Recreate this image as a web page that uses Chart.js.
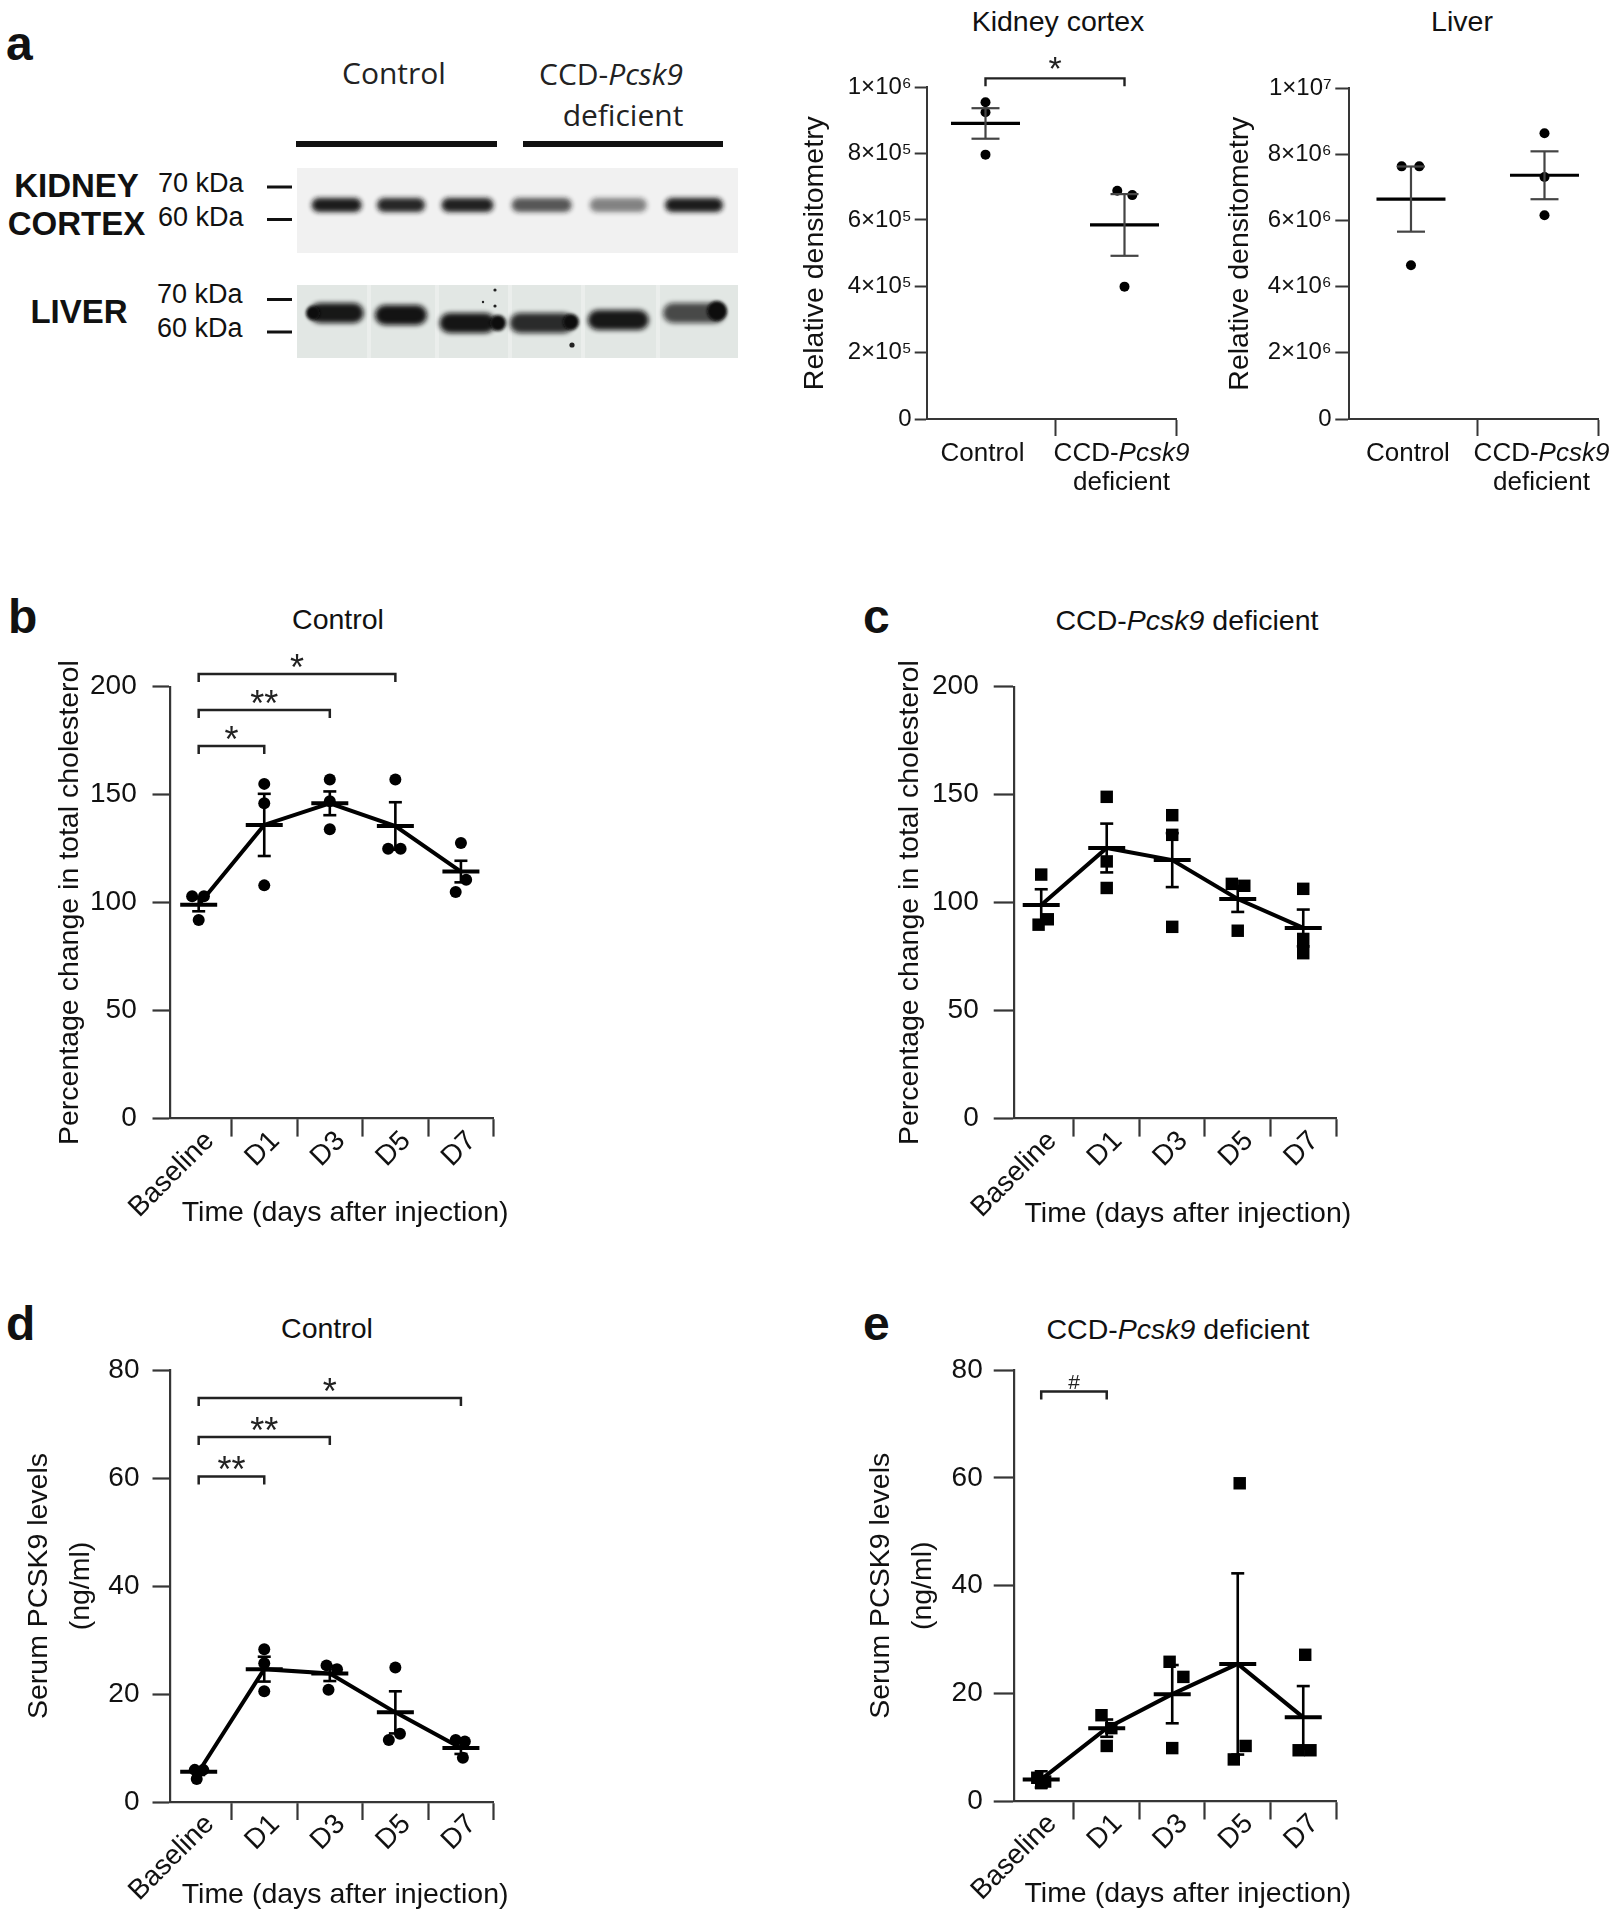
<!DOCTYPE html>
<html>
<head>
<meta charset="utf-8">
<script src="https://cdn.jsdelivr.net/npm/chart.js@4"></script>
<style>
html,body{margin:0;padding:0;background:#fff;}
#page{position:relative;width:1616px;height:1920px;overflow:hidden;background:#fff;}
#page canvas{position:absolute;}
#overlay{position:absolute;left:0;top:0;}
</style>
</head>
<body>
<div id="page">
<svg id="overlay" width="1616" height="1920" xmlns="http://www.w3.org/2000/svg" font-family="'Liberation Sans', Arial, sans-serif">
  <defs>
    <filter id="bandBlur" x="-30%" y="-80%" width="160%" height="260%"><feGaussianBlur stdDeviation="2.6"/></filter>
    <filter id="softBlur" x="-40%" y="-40%" width="180%" height="180%"><feGaussianBlur stdDeviation="1.6"/></filter>
  </defs>
  <g font-weight="bold" font-size="48" fill="#111">
    <text x="6" y="60">a</text>
    <text x="8" y="633">b</text>
    <text x="863" y="633">c</text>
    <text x="6" y="1340">d</text>
    <text x="863" y="1340">e</text>
  </g>
  <g font-family="'Open Sans', sans-serif" font-size="30" fill="#222" text-anchor="middle">
    <text x="394" y="84">Control</text>
    <text x="611" y="85">CCD-<tspan font-style="italic">Pcsk9</tspan></text>
    <text x="623" y="126">deficient</text>
  </g>
  <rect x="296" y="141" width="201" height="6" fill="#111"/>
  <rect x="523" y="141" width="200" height="6" fill="#111"/>
  <g font-weight="bold" font-size="33" fill="#111" text-anchor="middle">
    <text x="76.5" y="197">KIDNEY</text>
    <text x="76.5" y="235">CORTEX</text>
    <text x="79" y="323">LIVER</text>
  </g>
  <g font-size="27" fill="#111">
    <text x="158" y="192">70 kDa</text>
    <text x="158" y="226">60 kDa</text>
    <text x="157" y="303">70 kDa</text>
    <text x="157" y="337">60 kDa</text>
  </g>
  <g stroke="#111" stroke-width="3">
    <line x1="267" y1="187" x2="292" y2="187"/>
    <line x1="267" y1="219.5" x2="292" y2="219.5"/>
    <line x1="267" y1="299.5" x2="292" y2="299.5"/>
    <line x1="267" y1="332" x2="292" y2="332"/>
  </g>
  <g id="blots"></g>
  <g font-size="28.5" fill="#111" text-anchor="middle">
    <text x="1058" y="30.5">Kidney cortex</text>
    <text x="1462" y="30.5">Liver</text>
    <text x="338" y="629">Control</text>
    <text x="1187" y="629.5">CCD-<tspan font-style="italic">Pcsk9</tspan> deficient</text>
    <text x="327" y="1338">Control</text>
    <text x="1178" y="1339">CCD-<tspan font-style="italic">Pcsk9</tspan> deficient</text>
  </g>
</svg>
<canvas id="cKidney"></canvas>
<canvas id="cLiver"></canvas>
<canvas id="cB"></canvas>
<canvas id="cC"></canvas>
<canvas id="cD"></canvas>
<canvas id="cE"></canvas>
</div>
<script>
// ---------------- DATA ----------------
const groupLabels = ['Control', 'CCD-Pcsk9 deficient'];
const timeLabels = ['Baseline', 'D1', 'D3', 'D5', 'D7'];
const timeAxisTitle = 'Time (days after injection)';
const kidneyTickLabels = ['0', '2×10⁵', '4×10⁵', '6×10⁵', '8×10⁵', '1×10⁶'];
const liverTickLabels = ['0', '2×10⁶', '4×10⁶', '6×10⁶', '8×10⁶', '1×10⁷'];

// panel a – relative densitometry (individual values per group)
const kidneyPoints = [[955000, 925000, 797000], [688000, 675000, 399000]];
const kidneyJitter = [[0, 0, 0], [-0.052, 0.056, 0]];
const kidneyMean = [891000, 585000];
const kidneySem = [46000, 93000];
const liverPoints = [[7640000, 7640000, 4650000], [8640000, 7320000, 6160000]];
const liverJitter = [[-0.07, 0.062, 0], [0, 0, 0]];
const liverMean = [6650000, 7370000];
const liverSem = [985000, 724000];

// panel b – % change in total cholesterol, control
const cholCtrlPoints = [[103, 103, 92], [155, 146, 108], [157, 147, 134], [157, 125, 125], [127.6, 110.6, 104.9]];
const cholCtrlJitter = [[-0.1, 0.08, 0], [0, 0, 0], [0, 0, 0], [0, -0.11, 0.08], [0, 0.08, -0.08]];
const cholCtrlMean = [99, 136, 146, 135.5, 114.4];
const cholCtrlSem = [3, 14.4, 5.5, 11, 5];

// panel c – % change in total cholesterol, CCD-Pcsk9 deficient
const cholKoPoints = [[113, 89.8, 92.3], [149, 119.1, 106.8], [140.5, 131.4, 88.8], [108.7, 107.8, 87], [106.4, 83.2, 76.6]];
const cholKoJitter = [[0, -0.04, 0.1], [0, 0, 0], [0, 0, 0], [-0.09, 0.1, 0], [0, 0, 0]];
const cholKoMean = [98.9, 125.3, 119.7, 101.7, 88.3];
const cholKoSem = [7.3, 11.3, 12.5, 6, 8.5];

// panel d – serum PCSK9, control
const pcskCtrlPoints = [[5.95, 5.95, 4.24], [28.3, 25.7, 20.5], [25.3, 24.6, 20.8], [24.9, 12.65, 11.5], [11.5, 11.2, 8.2]];
const pcskCtrlJitter = [[-0.06, 0.07, -0.03], [0, 0, 0], [-0.05, 0.11, -0.02], [0, 0.07, -0.1], [-0.08, 0.06, 0.03]];
const pcskCtrlMean = [5.6, 24.6, 23.8, 16.6, 10.0];
const pcskCtrlSem = [0.6, 2.3, 1.4, 3.9, 1.1];

// panel e – serum PCSK9, CCD-Pcsk9 deficient
const pcskKoPoints = [[4.4, 3.7, 3.4], [16.0, 13.6, 10.3], [25.9, 23.1, 9.9], [59.0, 7.8, 10.3], [27.2, 9.5, 9.5]];
const pcskKoJitter = [[-0.06, 0.06, 0], [-0.08, 0.07, 0], [-0.04, 0.17, 0], [0.03, -0.06, 0.12], [0.03, -0.07, 0.11]];
const pcskKoMean = [4.1, 13.6, 19.9, 25.5, 15.6];
const pcskKoSem = [1.5, 1.6, 5.4, 16.8, 5.8];

// significance brackets: [from group, to group, level, label]
const kidneyBrackets = [[1, 2, 1027000, '*']];
const cholCtrlBrackets = [[1, 2, 172.5, '*'], [1, 3, 189.2, '**'], [1, 4, 205.9, '*']];
const pcskCtrlBrackets = [[1, 2, 60.3, '**'], [1, 3, 67.6, '**'], [1, 5, 74.8, '*']];
const pcskKoBrackets = [[1, 2, 76.0, '#']];

// western blot band densities (relative darkness per lane)
const kidneyBandDensity = [0.97, 0.92, 0.95, 0.7, 0.5, 0.97];
const liverBandDensity = [0.95, 0.97, 0.96, 0.86, 0.95, 0.72];

// ---------------- WESTERN BLOT (decorative image) ----------------
(function drawBlots() {
  const NS = 'http://www.w3.org/2000/svg';
  const g = document.getElementById('blots');
  function el(tag, attrs) { const e = document.createElementNS(NS, tag); for (const k in attrs) e.setAttribute(k, attrs[k]); g.appendChild(e); return e; }
  el('rect', {x: 297, y: 168, width: 441, height: 85, fill: '#f1f1f1'});
  el('rect', {x: 297, y: 285, width: 441, height: 73, fill: '#e2e7e4'});
  [369, 437, 510, 583, 658].forEach(x => el('rect', {x: x - 2, y: 285, width: 4, height: 73, fill: '#edf0ee', opacity: 0.8}));
  const laneX = [336.7, 401, 467.5, 541.7, 618.3, 694];
  const laneW = [50, 48, 52, 60, 57, 58];
  const liverY = [313, 315, 323, 323, 320, 313];
  kidneyBandDensity.forEach((d, i) => {
    el('rect', {x: laneX[i] - laneW[i] / 2, y: 198, width: laneW[i], height: 14, rx: 7, fill: '#141414', opacity: d, filter: 'url(#bandBlur)'});
  });
  liverBandDensity.forEach((d, i) => {
    const w = laneW[i] + 4;
    el('rect', {x: laneX[i] - w / 2, y: liverY[i] - 10, width: w, height: 20, rx: 10, fill: '#0d0d0d', opacity: d, filter: 'url(#bandBlur)'});
  });
  [[498, 323, 8], [571, 322, 8], [717, 311, 10], [313, 313, 7]].forEach(c => el('circle', {cx: c[0], cy: c[1], r: c[2], fill: '#0a0a0a', filter: 'url(#softBlur)'}));
  [[495, 290, 1.6], [495, 306, 1.6], [483, 302, 1.2], [572, 345, 2.6]].forEach(c => el('circle', {cx: c[0], cy: c[1], r: c[2], fill: '#222'}));
})();

// ---------------- CHARTS ----------------
const FONT = "'Liberation Sans', Arial, 'DejaVu Sans', sans-serif";
Chart.defaults.font.family = FONT;
Chart.defaults.color = '#111';
const AX = '#363636';

const bracketPlugin = {
  id: 'brackets',
  afterDraw(chart, args, opts) {
    const items = opts.items || [];
    const {ctx} = chart; const xs = chart.scales.x, ys = chart.scales.y;
    ctx.save();
    items.forEach(b => {
      const x1 = xs.getPixelForValue(b[0]), x2 = xs.getPixelForValue(b[1]), y = ys.getPixelForValue(b[2]);
      ctx.strokeStyle = '#222'; ctx.lineWidth = opts.lineWidth;
      ctx.beginPath(); ctx.moveTo(x1, y + opts.drop); ctx.lineTo(x1, y); ctx.lineTo(x2, y); ctx.lineTo(x2, y + opts.drop); ctx.stroke();
      ctx.fillStyle = '#222'; ctx.textAlign = 'center'; ctx.textBaseline = 'alphabetic';
      const isHash = b[3] === '#';
      ctx.font = (isHash ? opts.hashSize : opts.size) + 'px ' + FONT;
      ctx.fillText(b[3], (x1 + x2) / 2, y + (isHash ? opts.hashShift : opts.starShift));
    });
    ctx.restore();
  }
};

const groupLabelPlugin = {
  id: 'groupLabels',
  afterDraw(chart, args, opts) {
    const {ctx} = chart; const xs = chart.scales.x; const bottom = chart.chartArea.bottom;
    ctx.save(); ctx.fillStyle = '#111'; ctx.textBaseline = 'alphabetic'; ctx.textAlign = 'left';
    const normal = opts.size + 'px ' + FONT, italic = 'italic ' + opts.size + 'px ' + FONT;
    groupLabels.forEach((lab, i) => {
      const cx = xs.getPixelForValue(i + 1) + opts.dx;
      const lines = lab.indexOf(' deficient') > 0 ? [lab.replace(' deficient', ''), 'deficient'] : [lab];
      lines.forEach((line, li) => {
        const k = line.indexOf('Pcsk9');
        const parts = k >= 0 ? [[line.slice(0, k), normal], ['Pcsk9', italic], [line.slice(k + 5), normal]] : [[line, normal]];
        let total = 0; parts.forEach(p => { ctx.font = p[1]; total += ctx.measureText(p[0]).width; });
        let x = cx - total / 2; const y = bottom + opts.base + li * opts.lineGap;
        parts.forEach(p => { ctx.font = p[1]; ctx.fillText(p[0], x, y); x += ctx.measureText(p[0]).width; });
      });
    });
    ctx.restore();
  }
};

// x-axis title drawn under the axis (centre slightly right of the plot centre, as in the figure)
const xTitlePlugin = {
  id: 'xTitle',
  afterDraw(chart, args, opts) {
    if (!opts.text) return;
    const {ctx, chartArea} = chart;
    ctx.save(); ctx.fillStyle = '#111'; ctx.textAlign = 'center'; ctx.textBaseline = 'middle';
    ctx.font = opts.size + 'px ' + FONT;
    ctx.fillText(opts.text, (chartArea.left + chartArea.right) / 2 + opts.dx, chartArea.bottom + opts.dy);
    ctx.restore();
  }
};

function buildDatasets(points, jitter, means, sems, st) {
  const pts = [];
  points.forEach((arr, i) => arr.forEach((v, j) => pts.push({x: i + 1 + jitter[i][j], y: v})));
  const errs = [], caps = [];
  means.forEach((m, i) => {
    errs.push({x: i + 1, y: m - sems[i]}, {x: i + 1, y: m + sems[i]}, {x: i + 1, y: null});
    caps.push({x: i + 1, y: m - sems[i]}, {x: i + 1, y: m + sems[i]});
  });
  return [
    {label: 'SEM', data: errs, borderColor: st.errColor, borderWidth: st.errWidth, pointRadius: 0, spanGaps: false, clip: false},
    {label: 'SEM caps', data: caps, showLine: false, pointStyle: 'line', pointRadius: st.capR, pointBorderWidth: st.errWidth, pointBorderColor: st.errColor, clip: false},
    {label: 'Mean', data: means.map((m, i) => ({x: i + 1, y: m})), showLine: st.connect, borderColor: '#000', borderWidth: st.meanWidth, pointStyle: 'line', pointRadius: st.meanR, pointBorderWidth: st.meanWidth, pointBorderColor: '#000', clip: false},
    {label: 'Individual values', data: pts, showLine: false, pointStyle: st.shape, pointRadius: st.r, pointBackgroundColor: '#000', pointBorderColor: '#000', pointBorderWidth: 0, clip: false}
  ];
}

function placeCanvas(id, left, top, w, h) {
  const cv = document.getElementById(id);
  cv.width = w; cv.height = h; cv.style.left = left + 'px'; cv.style.top = top + 'px';
  cv.style.width = w + 'px'; cv.style.height = h + 'px';
  return cv;
}

// nudge paddings so that the plot area lands exactly where the figure has it
function fitChartArea(chart, P) {
  const T = P.area;
  for (let k = 0; k < 4; k++) {
    const ca = chart.chartArea;
    const dl = T.left - ca.left, dt = T.top - ca.top, dr = ca.right - T.right, db = ca.bottom - T.bottom;
    if (Math.abs(dl) + Math.abs(dt) + Math.abs(dr) + Math.abs(db) < 0.2) break;
    P.yw += dl; P.padTop += dt; P.padRight += dr; P.padBottom += db;
    chart.config.options.layout.padding = {left: 0, top: P.padTop, right: P.padRight, bottom: P.padBottom};
    chart.update();
  }
}

function makeGroupChart(P) {
  const cv = placeCanvas(P.id, P.left, P.top, P.w, P.h);
  const chart = new Chart(cv, {
    type: 'line',
    data: {datasets: buildDatasets(P.points, P.jitter, P.means, P.sems,
      {errColor: '#444', errWidth: 2.2, capR: 14, connect: false, meanWidth: 3.2, meanR: 34.5, shape: 'circle', r: 5})},
    options: {
      responsive: false, animation: false, events: [], devicePixelRatio: 1,
      layout: {autoPadding: false, padding: {left: 0, top: P.padTop, right: P.padRight, bottom: P.padBottom}},
      plugins: {legend: {display: false}, tooltip: {enabled: false},
        brackets: {items: P.brackets, drop: 8, lineWidth: 2.4, size: 34, starShift: 2, hashSize: 21, hashShift: -3},
        groupLabels: {dx: -3, size: 26, base: 42, lineGap: 29}},
      scales: {
        x: {type: 'linear', min: P.xmin, max: P.xmax,
          afterBuildTicks: s => { s.ticks = [{value: 1}, {value: 1.5}, {value: 2}, {value: P.xmax}]; },
          afterFit: s => { s.height = P.xh; },
          ticks: {autoSkip: false, maxRotation: 0, padding: 0, callback: () => ''},
          grid: {drawOnChartArea: false, drawTicks: true, tickLength: 17, tickWidth: 2,
            tickColor: c => (c.tick && !Number.isInteger(c.tick.value)) ? AX : 'rgba(0,0,0,0)'},
          border: {display: true, color: AX, width: 2}},
        y: {type: 'linear', min: 0, max: P.ymax,
          afterFit: s => { s.width = P.yw; },
          ticks: {stepSize: P.ymax / 5, padding: P.ytp, color: '#111', font: {size: 24},
            callback: v => P.tickLabels[Math.round(v / (P.ymax / 5))]},
          grid: {drawOnChartArea: false, tickLength: P.ytl, tickWidth: 2, tickColor: AX},
          border: {display: true, color: AX, width: 2},
          title: {display: true, text: 'Relative densitometry', color: '#111', font: {size: 28.5}, padding: {top: P.ytitlePad, bottom: 0}}}
      }
    },
    plugins: [bracketPlugin, groupLabelPlugin]
  });
  fitChartArea(chart, P);
  return chart;
}

function makeTimeChart(P) {
  const cv = placeCanvas(P.id, P.left, P.top, P.w, P.h);
  const chart = new Chart(cv, {
    type: 'line',
    data: {datasets: buildDatasets(P.points, P.jitter, P.means, P.sems,
      {errColor: '#000', errWidth: 2.6, capR: 6.5, connect: true, meanWidth: 4, meanR: 18.5, shape: P.shape, r: P.r})},
    options: {
      responsive: false, animation: false, events: [], devicePixelRatio: 1,
      layout: {autoPadding: false, padding: {left: 0, top: P.padTop, right: P.padRight, bottom: P.padBottom}},
      plugins: {legend: {display: false}, tooltip: {enabled: false},
        brackets: {items: P.brackets || [], drop: 8, lineWidth: 2.5, size: 36, starShift: 6, hashSize: 21, hashShift: -3},
        xTitle: {text: timeAxisTitle, size: 28.5, dx: 13, dy: P.xTitleDy}},
      scales: {
        x: {type: 'linear', min: P.xmin, max: 5.5,
          afterBuildTicks: s => { const t = []; for (let i = 1; i <= 5; i++) { t.push({value: i}); t.push({value: i + 0.5}); } s.ticks = t; },
          afterFit: s => { s.height = P.xh; },
          ticks: {autoSkip: false, minRotation: 45, maxRotation: 45, padding: -12, labelOffset: 11, color: '#111', font: {size: 28},
            callback: v => Number.isInteger(v) ? timeLabels[v - 1] : ''},
          grid: {drawOnChartArea: false, drawTicks: true, tickLength: 18, tickWidth: 2.2,
            tickColor: c => (c.tick && !Number.isInteger(c.tick.value)) ? AX : 'rgba(0,0,0,0)'},
          border: {display: true, color: AX, width: 2.2}},
        y: {type: 'linear', min: 0, max: P.ymax,
          afterFit: s => { s.width = P.yw; },
          ticks: {stepSize: P.ystep, padding: P.ytp, color: '#111', font: {size: 28}},
          grid: {drawOnChartArea: false, tickLength: P.ytl, tickWidth: 2.2, tickColor: AX},
          border: {display: true, color: AX, width: 2.2},
          title: {display: true, text: P.ytitle, color: '#111', font: {size: 28.5, lineHeight: P.ytitleLH}, padding: {top: P.ytitlePad, bottom: 0}}}
      }
    },
    plugins: [bracketPlugin, xTitlePlugin]
  });
  fitChartArea(chart, P);
  return chart;
}

makeGroupChart({id: 'cKidney', left: 780, top: 0, w: 420, h: 500, padTop: 87.3, padRight: 23.3, padBottom: 21, xh: 60, yw: 146.7,
  area: {left: 146.7, top: 87.3, right: 396.7, bottom: 419},
  xmin: 0.577, xmax: 2.3755, ymax: 1000000, ytl: 12, ytp: 3, ytitlePad: 17.9, tickLabels: kidneyTickLabels,
  points: kidneyPoints, jitter: kidneyJitter, means: kidneyMean, sems: kidneySem, brackets: kidneyBrackets});
makeGroupChart({id: 'cLiver', left: 1200, top: 0, w: 416, h: 500, padTop: 88.3, padRight: 17.7, padBottom: 21, xh: 60, yw: 149.3,
  area: {left: 149.3, top: 88.3, right: 398.3, bottom: 419},
  xmin: 0.538, xmax: 2.403, ymax: 10000000, ytl: 14, ytp: 3.6, ytitlePad: 22.9, tickLabels: liverTickLabels,
  points: liverPoints, jitter: liverJitter, means: liverMean, sems: liverSem, brackets: []});

const cholTitle = 'Percentage change in total cholesterol';
const pcskTitle = ['Serum PCSK9 levels', '(ng/ml)'];
makeTimeChart({id: 'cB', left: 0, top: 640, w: 560, h: 600, padTop: 46.7, padRight: 66.3, padBottom: 9.6, xh: 111.8,
  area: {left: 170.5, top: 46.7, right: 493.7, bottom: 478.6}, xTitleDy: 95,
  yw: 170.5, ytl: 18, ytp: 15.8, xmin: 0.57, ymax: 200, ystep: 50, ytitle: cholTitle, ytitleLH: 1.2, ytitlePad: 52.9,
  shape: 'circle', r: 6, points: cholCtrlPoints, jitter: cholCtrlJitter, means: cholCtrlMean, sems: cholCtrlSem, brackets: cholCtrlBrackets});
makeTimeChart({id: 'cC', left: 860, top: 640, w: 560, h: 600, padTop: 46.7, padRight: 84, padBottom: 9.6, xh: 111.8,
  area: {left: 153.7, top: 46.7, right: 476, bottom: 478.6}, xTitleDy: 96,
  yw: 153.7, ytl: 20, ytp: 15, xmin: 0.58, ymax: 200, ystep: 50, ytitle: cholTitle, ytitleLH: 1.2, ytitlePad: 32.9,
  shape: 'rect', r: 8.8, points: cholKoPoints, jitter: cholKoJitter, means: cholKoMean, sems: cholKoSem, brackets: []});
makeTimeChart({id: 'cD', left: 0, top: 1340, w: 560, h: 580, padTop: 30, padRight: 66.3, padBottom: 8.2, xh: 109.8,
  area: {left: 170.5, top: 30, right: 493.7, bottom: 462}, xTitleDy: 93,
  yw: 170.5, ytl: 18, ytp: 13, xmin: 0.57, ymax: 80, ystep: 20, ytitle: pcskTitle, ytitleLH: 1.456, ytitlePad: 18.75,
  shape: 'circle', r: 6, points: pcskCtrlPoints, jitter: pcskCtrlJitter, means: pcskCtrlMean, sems: pcskCtrlSem, brackets: pcskCtrlBrackets});
makeTimeChart({id: 'cE', left: 860, top: 1340, w: 560, h: 580, padTop: 30, padRight: 84, padBottom: 8.2, xh: 109.8,
  area: {left: 153.7, top: 30, right: 476, bottom: 461.5}, xTitleDy: 93,
  yw: 153.7, ytl: 20, ytp: 11, xmin: 0.58, ymax: 80, ystep: 20, ytitle: pcskTitle, ytitleLH: 1.456, ytitlePad: 0.75,
  shape: 'rect', r: 8.8, points: pcskKoPoints, jitter: pcskKoJitter, means: pcskKoMean, sems: pcskKoSem, brackets: pcskKoBrackets});
</script>
</body>
</html>
